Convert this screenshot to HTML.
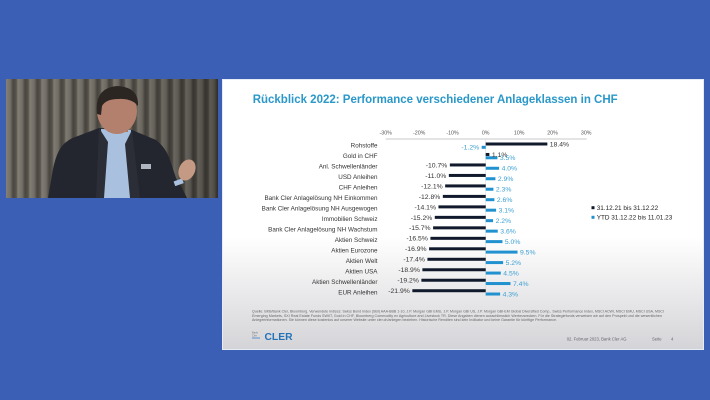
<!DOCTYPE html>
<html><head><meta charset="utf-8"><style>
html,body{margin:0;padding:0;background:#3c5fb6;}
svg{display:block;}
text{font-family:"Liberation Sans",Arial,sans-serif;}
</style></head><body>
<svg width="710" height="400" viewBox="0 0 710 400" xmlns="http://www.w3.org/2000/svg">
<defs>
<linearGradient id="slideg" x1="0" y1="0" x2="0" y2="1">
<stop offset="0" stop-color="#ffffff"/><stop offset="0.58" stop-color="#ffffff"/><stop offset="1" stop-color="#d4d4d8"/>
</linearGradient>
<linearGradient id="cur" x1="0" y1="0" x2="1" y2="0">
<stop offset="0" stop-color="#8a867c"/><stop offset="0.35" stop-color="#7a766d"/><stop offset="0.6" stop-color="#4e4a44"/><stop offset="0.85" stop-color="#5d5952"/><stop offset="1" stop-color="#8a867c"/>
</linearGradient>
<pattern id="curp" x="6" y="0" width="12" height="200" patternUnits="userSpaceOnUse">
<rect width="12" height="200" fill="url(#cur)"/>
</pattern>
<linearGradient id="shade" x1="0" y1="0" x2="1" y2="0">
<stop offset="0" stop-color="#000" stop-opacity="0.05"/><stop offset="0.6" stop-color="#000" stop-opacity="0.12"/><stop offset="1" stop-color="#000" stop-opacity="0.35"/>
</linearGradient>
</defs>
<rect width="710" height="400" fill="#3c5fb6"/>
<!-- video -->
<rect x="6" y="79" width="212" height="119" fill="url(#curp)"/>
<rect x="6" y="79" width="212" height="119" fill="url(#shade)"/>
<!-- man -->
<path d="M48,198 L52,175 Q55,155 62,146 Q68,139 78,136 L99,128 L132,130 L156,140 Q166,148 170,160 L176,178 L181,186 L187,198 Z" fill="#23262e"/>
<path d="M101,129 L131,130 L130,198 L104,198 Z" fill="#a9c0df"/>
<path d="M99,128 L108,142 L104,198 L96,198 Z" fill="#2b2e37"/>
<path d="M132,130 L125,144 L130,198 L140,198 Z" fill="#2b2e37"/>
<rect x="141" y="164" width="10" height="5" fill="#b0b6c0"/>
<rect x="108" y="122" width="20" height="10" fill="#a87562"/>
<ellipse cx="117" cy="111" rx="20" ry="23" fill="#b2806c"/>
<path d="M97,114 Q94,88 117,86 Q139,87 138,106 Q132,98 118,99 Q106,99 102,106 L101,115 Z" fill="#2b2622"/>
<rect x="174" y="180" width="9" height="5" fill="#a9c0df" transform="rotate(-20 178 182)"/>
<ellipse cx="187" cy="170" rx="8" ry="11" fill="#c49a84" transform="rotate(25 187 170)"/>
<!-- slide -->
<rect x="222" y="79" width="482" height="271" fill="url(#slideg)"/>
<rect x="222.5" y="79.5" width="481" height="270" fill="none" stroke="#e6ebf5" stroke-width="1"/>
<text x="252.7" y="103" font-size="12" font-weight="bold" fill="#2a98c9" textLength="365" lengthAdjust="spacingAndGlyphs">Rückblick 2022: Performance verschiedener Anlageklassen in CHF</text>
<!-- axis -->
<line x1="385.7" y1="139" x2="586.7" y2="139" stroke="#b8b8b8" stroke-width="0.7"/>
<line x1="485.7" y1="139" x2="485.7" y2="296" stroke="#dcdcdc" stroke-width="0.6"/>
<g font-size="5.3" fill="#555" text-anchor="middle">
<text x="385.7" y="134.3">-30%</text><text x="419.2" y="134.3">-20%</text><text x="452.5" y="134.3">-10%</text><text x="485.7" y="134.3">0%</text><text x="519.2" y="134.3">10%</text><text x="552.5" y="134.3">20%</text><text x="586.2" y="134.3">30%</text>
</g>
<!-- categories -->
<g font-size="6.3" fill="#333" text-anchor="end">
<text x="377.5" y="147.7">Rohstoffe</text>
<text x="377.5" y="158.2">Gold in CHF</text>
<text x="377.5" y="168.7">Anl. Schwellenländer</text>
<text x="377.5" y="179.1">USD Anleihen</text>
<text x="377.5" y="189.6">CHF Anleihen</text>
<text x="377.5" y="200.1">Bank Cler Anlagelösung NH Einkommen</text>
<text x="377.5" y="210.6">Bank Cler Anlagelösung NH Ausgewogen</text>
<text x="377.5" y="221.1">Immobilien Schweiz</text>
<text x="377.5" y="231.5">Bank Cler Anlagelösung NH Wachstum</text>
<text x="377.5" y="242">Aktien Schweiz</text>
<text x="377.5" y="252.5">Aktien Eurozone</text>
<text x="377.5" y="263">Aktien Welt</text>
<text x="377.5" y="273.5">Aktien USA</text>
<text x="377.5" y="283.9">Aktien Schwellenländer</text>
<text x="377.5" y="294.4">EUR Anleihen</text>
</g>
<!-- dark bars -->
<g fill="#101a2c">
<rect x="485.7" y="142.5" width="61.64" height="3"/>
<rect x="485.7" y="152.98" width="3.69" height="3"/>
<rect x="449.85" y="163.46" width="35.85" height="3"/>
<rect x="448.85" y="173.94" width="36.85" height="3"/>
<rect x="445.16" y="184.42" width="40.54" height="3"/>
<rect x="442.82" y="194.9" width="42.88" height="3"/>
<rect x="438.46" y="205.38" width="47.24" height="3"/>
<rect x="434.78" y="215.86" width="50.92" height="3"/>
<rect x="433.1" y="226.34" width="52.6" height="3"/>
<rect x="430.42" y="236.82" width="55.28" height="3"/>
<rect x="429.08" y="247.3" width="56.62" height="3"/>
<rect x="427.41" y="257.78" width="58.29" height="3"/>
<rect x="422.38" y="268.26" width="63.32" height="3"/>
<rect x="421.38" y="278.74" width="64.32" height="3"/>
<rect x="412.33" y="289.22" width="73.37" height="3"/>
</g>
<!-- blue bars -->
<g fill="#2191cf">
<rect x="481.68" y="145.8" width="4.02" height="3"/>
<rect x="485.7" y="156.28" width="11.73" height="3"/>
<rect x="485.7" y="166.76" width="13.4" height="3"/>
<rect x="485.7" y="177.24" width="9.72" height="3"/>
<rect x="485.7" y="187.72" width="7.71" height="3"/>
<rect x="485.7" y="198.2" width="8.71" height="3"/>
<rect x="485.7" y="208.68" width="10.39" height="3"/>
<rect x="485.7" y="219.16" width="7.37" height="3"/>
<rect x="485.7" y="229.64" width="12.06" height="3"/>
<rect x="485.7" y="240.12" width="16.75" height="3"/>
<rect x="485.7" y="250.6" width="31.83" height="3"/>
<rect x="485.7" y="261.08" width="17.42" height="3"/>
<rect x="485.7" y="271.56" width="15.08" height="3"/>
<rect x="485.7" y="282.04" width="24.79" height="3"/>
<rect x="485.7" y="292.52" width="14.41" height="3"/>
</g>
<!-- dark values -->
<g font-size="6.8" fill="#333">
<text x="549.8" y="146.4">18.4%</text>
<text x="491.9" y="156.9">1.1%</text>
<g text-anchor="end">
<text x="447.3" y="167.4">-10.7%</text>
<text x="446.3" y="177.8">-11.0%</text>
<text x="442.7" y="188.3">-12.1%</text>
<text x="440.3" y="198.8">-12.8%</text>
<text x="436" y="209.3">-14.1%</text>
<text x="432.3" y="219.8">-15.2%</text>
<text x="430.6" y="230.2">-15.7%</text>
<text x="427.9" y="240.7">-16.5%</text>
<text x="426.6" y="251.2">-16.9%</text>
<text x="424.9" y="261.7">-17.4%</text>
<text x="419.9" y="272.2">-18.9%</text>
<text x="418.9" y="282.6">-19.2%</text>
<text x="409.8" y="293.1">-21.9%</text>
</g>
</g>
<!-- blue values -->
<g font-size="6.8" fill="#3a9fd2">
<text x="479.2" y="149.7" text-anchor="end">-1.2%</text>
<text x="499.9" y="160.2">3.5%</text>
<text x="501.6" y="170.7">4.0%</text>
<text x="497.9" y="181.2">2.9%</text>
<text x="495.9" y="191.6">2.3%</text>
<text x="496.9" y="202.1">2.6%</text>
<text x="498.6" y="212.6">3.1%</text>
<text x="495.6" y="223.1">2.2%</text>
<text x="500.3" y="233.6">3.6%</text>
<text x="504.9" y="244">5.0%</text>
<text x="520" y="254.5">9.5%</text>
<text x="505.6" y="265">5.2%</text>
<text x="503.3" y="275.5">4.5%</text>
<text x="513" y="286">7.4%</text>
<text x="502.6" y="296.4">4.3%</text>
</g>
<!-- legend -->
<rect x="591.5" y="206.2" width="3" height="3" fill="#101a2c"/>
<text x="596.7" y="210" font-size="6.4" fill="#222">31.12.21 bis 31.12.22</text>
<rect x="591.5" y="215.8" width="3" height="3" fill="#2191cf"/>
<text x="596.7" y="219.6" font-size="6.4" fill="#222">YTD 31.12.22 bis 11.01.23</text>
<!-- source -->
<g font-size="3.3" fill="#666">
<text x="252" y="312.7" textLength="412" lengthAdjust="spacingAndGlyphs">Quelle: BKB/Bank Cler, Bloomberg. Verwendete Indizes: Swiss Bond Index (SBI) AAA-BBB 1-10, J.P. Morgan GBI EMU, J.P. Morgan GBI US, J.P. Morgan GBI-EM Global Diversified Comp., Swiss Performance Index, MSCI ACWI, MSCI EMU, MSCI USA, MSCI</text>
<text x="252" y="317" textLength="410" lengthAdjust="spacingAndGlyphs">Emerging Markets, SXI Real Estate Funds SWIIT, Gold in CHF, Bloomberg Commodity ex Agriculture and Livestock TR. Diese Angaben dienen ausschliesslich Werbezwecken. Für die Strategiefonds verweisen wir auf den Prospekt und die wesentlichen</text>
<text x="252" y="321.2" textLength="305" lengthAdjust="spacingAndGlyphs">Anlegerinformationen. Sie können diese kostenlos auf unserer Website unter cler.ch/anlegen beziehen. Historische Renditen sind kein Indikator und keine Garantie für künftige Performance.</text>
</g>
<!-- logo -->
<g font-size="2.6" fill="#777">
<text x="252" y="333.5">Bank</text><text x="252" y="336.5">Cler</text>
</g>
<rect x="252" y="337.5" width="8" height="1" fill="#5b8fc8"/>
<text x="264.5" y="339.8" font-size="10.3" font-weight="bold" fill="#2373b8">CLER</text>
<text x="566.7" y="340.3" font-size="4.2" fill="#666">02. Februar 2023, Bank Cler AG</text>
<text x="652" y="340.3" font-size="4.2" fill="#666">Seite</text>
<text x="671" y="340.3" font-size="4.2" fill="#666">4</text>
</svg>
</body></html>
